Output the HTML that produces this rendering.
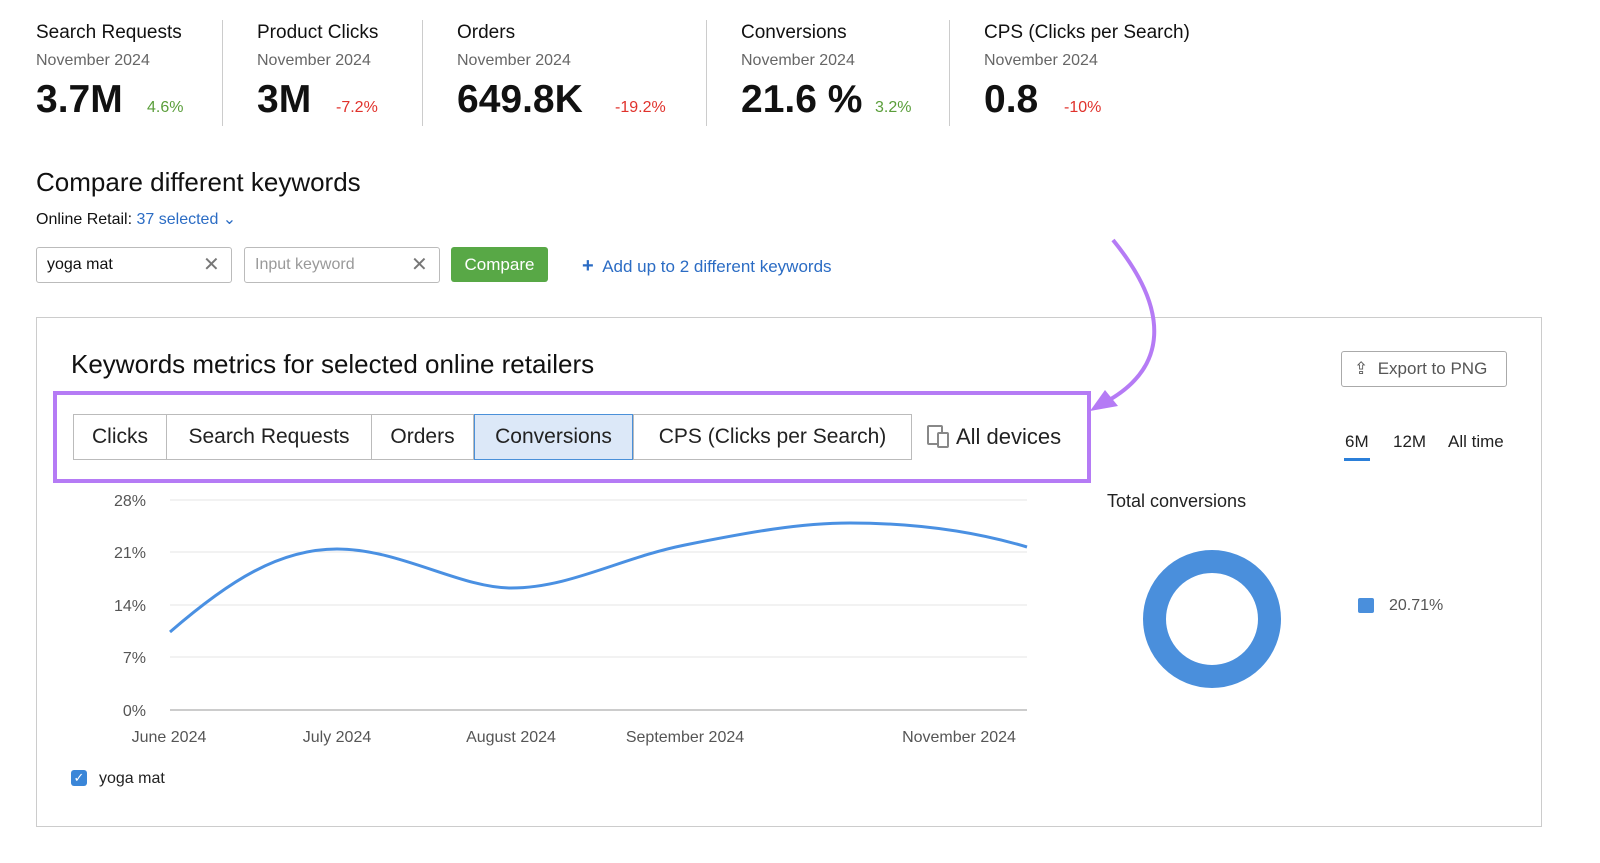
<!DOCTYPE html>
<html><head><meta charset="utf-8"><style>
body{margin:0;width:1600px;height:863px;background:#fff;font-family:"Liberation Sans",Arial,sans-serif;color:#111;position:relative;overflow:hidden}
.a{position:absolute;white-space:nowrap}
.t{font-size:19px}
.s{font-size:16px;color:#666}
.v{font-size:39px;font-weight:bold}
.g{font-size:16px;color:#5a9e3a}
.r{font-size:16px;color:#e0322c}
.dv{position:absolute;top:20px;width:1px;height:106px;background:#ccc}
.tab{position:absolute;top:414px;height:44px;border:1px solid #bbb;font-size:21px;line-height:44px;text-align:center;color:#222;background:#fff;box-sizing:content-box}
</style></head><body>
<div class="a t" style="left:36px;top:22px">Search Requests</div>
<div class="a s" style="left:36px;top:52px">November 2024</div>
<div class="a v" style="left:36px;top:78px">3.7M</div>
<div class="a g" style="left:147px;top:99px">4.6%</div>
<div class="dv" style="left:222px"></div>
<div class="a t" style="left:257px;top:22px">Product Clicks</div>
<div class="a s" style="left:257px;top:52px">November 2024</div>
<div class="a v" style="left:257px;top:78px">3M</div>
<div class="a r" style="left:336px;top:99px">-7.2%</div>
<div class="dv" style="left:422px"></div>
<div class="a t" style="left:457px;top:22px">Orders</div>
<div class="a s" style="left:457px;top:52px">November 2024</div>
<div class="a v" style="left:457px;top:78px">649.8K</div>
<div class="a r" style="left:615px;top:99px">-19.2%</div>
<div class="dv" style="left:706px"></div>
<div class="a t" style="left:741px;top:22px">Conversions</div>
<div class="a s" style="left:741px;top:52px">November 2024</div>
<div class="a v" style="left:741px;top:78px">21.6 %</div>
<div class="a g" style="left:875px;top:99px">3.2%</div>
<div class="dv" style="left:949px"></div>
<div class="a t" style="left:984px;top:22px">CPS (Clicks per Search)</div>
<div class="a s" style="left:984px;top:52px">November 2024</div>
<div class="a v" style="left:984px;top:78px">0.8</div>
<div class="a r" style="left:1064px;top:99px">-10%</div>

<div class="a" style="left:36px;top:167px;font-size:26px">Compare different keywords</div>
<div class="a" style="left:36px;top:209px;font-size:16px">Online Retail: <span style="color:#2b6cc4">37 selected ⌄</span></div>
<div class="a" style="left:36px;top:247px;width:194px;height:34px;border:1px solid #bbb;border-radius:3px"><span class="a" style="left:10px;top:8px;font-size:16px">yoga mat</span><span class="a" style="left:166px;top:4px;font-size:20px;color:#777">✕</span></div>
<div class="a" style="left:244px;top:247px;width:194px;height:34px;border:1px solid #bbb;border-radius:3px"><span class="a" style="left:10px;top:8px;font-size:16px;color:#999">Input keyword</span><span class="a" style="left:166px;top:4px;font-size:20px;color:#777">✕</span></div>
<div class="a" style="left:451px;top:247px;width:97px;height:35px;background:#58a846;border-radius:3px;color:#fff;font-size:17px;line-height:35px;text-align:center">Compare</div>
<div class="a" style="left:582px;top:255px;font-size:17px;color:#2b6cc4"><b style="font-size:20px">+</b>&nbsp; Add up to 2 different keywords</div>

<div class="a" style="left:36px;top:317px;width:1504px;height:508px;border:1px solid #ccc"></div>
<div class="a" style="left:71px;top:349px;font-size:26px">Keywords metrics for selected online retailers</div>
<div class="a" style="left:53px;top:391px;width:1030px;height:84px;border:4px solid #b57bf5"></div>
<div class="tab" style="left:73px;width:92px">Clicks</div>
<div class="tab" style="left:166px;width:204px">Search Requests</div>
<div class="tab" style="left:371px;width:101px">Orders</div>
<div class="tab" style="left:474px;width:157px;background:#dce8f8;border-color:#4a90d9">Conversions</div>
<div class="tab" style="left:633px;width:277px">CPS (Clicks per Search)</div>
<div class="a" style="left:927px;top:425px;width:12px;height:16px;border:2px solid #888;border-radius:2px"></div>
<div class="a" style="left:937px;top:432px;width:8px;height:12px;border:2px solid #888;background:#fff;border-radius:2px"></div>
<div class="a" style="left:956px;top:424px;font-size:22px;color:#222">All devices</div>
<div class="a" style="left:1341px;top:351px;width:164px;height:34px;border:1px solid #aaa;border-radius:3px;font-size:17px;color:#555;line-height:34px"><span style="margin-left:12px">⇪</span>&nbsp; Export to PNG</div>
<div class="a" style="left:1345px;top:432px;font-size:17px;color:#222">6M</div>
<div class="a" style="left:1344px;top:458px;width:26px;height:3px;background:#2b7fd9"></div>
<div class="a" style="left:1393px;top:432px;font-size:17px;color:#222">12M</div>
<div class="a" style="left:1448px;top:432px;font-size:17px;color:#222">All time</div>

<svg class="a" style="left:0;top:0" width="1600" height="863">
<g stroke="#e4e4e4" stroke-width="1">
<line x1="170" y1="500" x2="1027" y2="500"/><line x1="170" y1="552" x2="1027" y2="552"/><line x1="170" y1="605" x2="1027" y2="605"/><line x1="170" y1="657" x2="1027" y2="657"/></g>
<line x1="170" y1="710" x2="1027" y2="710" stroke="#999"/>
<g font-size="16" fill="#555" text-anchor="end" font-family="Liberation Sans">
<text x="146" y="506">28%</text><text x="146" y="558">21%</text><text x="146" y="611">14%</text><text x="146" y="663">7%</text><text x="146" y="716">0%</text></g>
<g font-size="16" fill="#555" text-anchor="middle" font-family="Liberation Sans">
<text x="169" y="742">June 2024</text><text x="337" y="742">July 2024</text><text x="511" y="742">August 2024</text><text x="685" y="742">September 2024</text><text x="959" y="742">November 2024</text></g>
<path d="M170,632 C230,580 280,549 337,549 C400,549 460,588 511,588 C570,588 620,558 685,545 C750,532 800,523 850,523 C920,523 980,533 1027,547" fill="none" stroke="#4a90e2" stroke-width="3"/>
<circle cx="1212" cy="619" r="57.5" fill="none" stroke="#4a8fdc" stroke-width="23"/>
<path d="M1113,240 C1170,310 1170,370 1100,405" fill="none" stroke="#b57bf5" stroke-width="4"/>
<path d="M1090,411 L1118,406 L1105,390 Z" fill="#b57bf5"/>
</svg>
<div class="a" style="left:1107px;top:491px;font-size:18px;color:#222">Total conversions</div>
<div class="a" style="left:1358px;top:598px;width:16px;height:15px;background:#4a8fdc;border-radius:2px"></div>
<div class="a" style="left:1389px;top:597px;font-size:16px;color:#555">20.71%</div>
<div class="a" style="left:71px;top:770px;width:16px;height:16px;background:#3a86d8;border-radius:3px;color:#fff;font-size:13px;line-height:16px;text-align:center">✓</div>
<div class="a" style="left:99px;top:770px;font-size:16px;color:#222">yoga mat</div>
</body></html>
